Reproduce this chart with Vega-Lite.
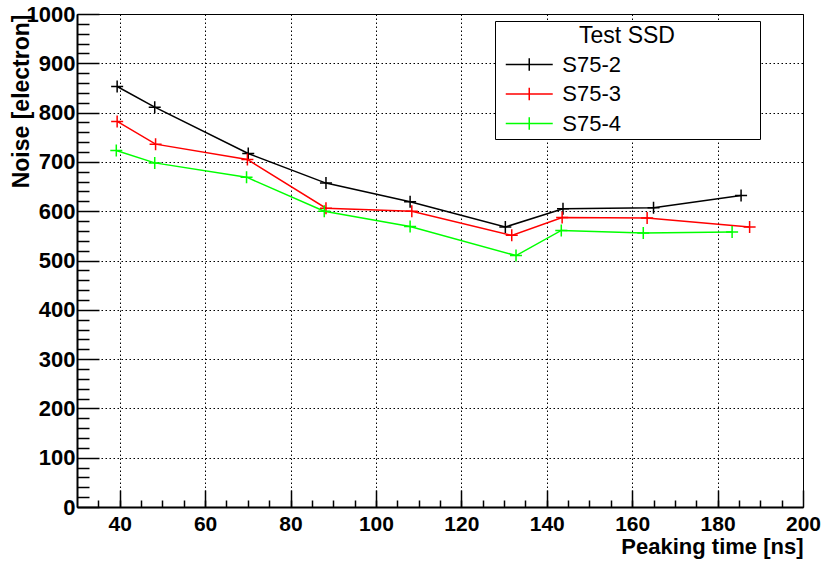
{
  "$schema": "https://vega.github.io/schema/vega-lite/v6.json",
  "width": 726,
  "height": 493,
  "autosize": {"type": "none"},
  "padding": {"left": 77, "top": 14, "right": 22, "bottom": 58},
  "background": "white",
  "config": {
    "view": {"stroke": "black", "strokeWidth": 1},
    "font": "Liberation Sans",
    "axis": {"domainColor": "black", "domainWidth": 2, "tickColor": "black", "tickWidth": 1.5, "labelColor": "black", "titleColor": "black"}
  },
  "data": {"values": [
    {"series": "S75-2", "t": 39.4, "noise": 853},
    {"series": "S75-2", "t": 48.2, "noise": 811},
    {"series": "S75-2", "t": 70.1, "noise": 717},
    {"series": "S75-2", "t": 88.3, "noise": 657},
    {"series": "S75-2", "t": 108.0, "noise": 619},
    {"series": "S75-2", "t": 130.3, "noise": 568},
    {"series": "S75-2", "t": 143.8, "noise": 605},
    {"series": "S75-2", "t": 165.0, "noise": 607},
    {"series": "S75-2", "t": 185.5, "noise": 632},
    {"series": "S75-3", "t": 39.4, "noise": 782},
    {"series": "S75-3", "t": 48.4, "noise": 736},
    {"series": "S75-3", "t": 69.9, "noise": 705},
    {"series": "S75-3", "t": 88.3, "noise": 606},
    {"series": "S75-3", "t": 108.4, "noise": 600},
    {"series": "S75-3", "t": 131.8, "noise": 551},
    {"series": "S75-3", "t": 143.6, "noise": 587},
    {"series": "S75-3", "t": 163.5, "noise": 586},
    {"series": "S75-3", "t": 187.5, "noise": 568},
    {"series": "S75-4", "t": 39.2, "noise": 723},
    {"series": "S75-4", "t": 48.2, "noise": 698},
    {"series": "S75-4", "t": 69.7, "noise": 669},
    {"series": "S75-4", "t": 87.9, "noise": 600},
    {"series": "S75-4", "t": 108.0, "noise": 569},
    {"series": "S75-4", "t": 132.8, "noise": 510},
    {"series": "S75-4", "t": 143.4, "noise": 561},
    {"series": "S75-4", "t": 162.6, "noise": 556},
    {"series": "S75-4", "t": 183.4, "noise": 558}
  ]},
  "encoding": {
    "color": {
      "field": "series", "type": "nominal",
      "scale": {"domain": ["S75-2", "S75-3", "S75-4"], "range": ["#000000", "#ff0000", "#00ff00"]},
      "legend": {
        "title": "Test SSD", "orient": "none", "legendX": 418, "legendY": 7,
        "titleFontSize": 23, "titleFontWeight": "normal", "titleFont": "Liberation Sans",
        "titleAnchor": "middle", "titleAlign": "center", "titleColor": "black", "titlePadding": 4,
        "labelFontSize": 22, "labelFont": "Liberation Sans", "labelColor": "black", "labelOffset": 20.5, "labelLimit": 400,
        "symbolType": "M-2,0H2M0,-0.54V0.54", "symbolSize": 552, "symbolStrokeWidth": 1.5,
        "symbolFillColor": "transparent", "symbolOffset": 17.75,
        "fillColor": "white", "strokeColor": "black", "padding": 4, "rowPadding": 5.5,
        "labelExpr": "pad(datum.label, 27, '\u00a0') + '\u200b'"
      }
    }
  },
  "layer": [
    {
      "mark": {"type": "line", "strokeWidth": 1.5},
      "encoding": {
        "x": {"field": "t", "type": "quantitative", "scale": {"domain": [30, 200], "nice": false, "zero": false},
          "axis": {"orient": "bottom", "values": [35,40,45,50,55,60,65,70,75,80,85,90,95,100,105,110,115,120,125,130,135,140,145,150,155,160,165,170,175,180,185,190,195],
            "tickSize": -7, "labels": false, "domain": false, "grid": false, "title": null}},
        "y": {"field": "noise", "type": "quantitative", "scale": {"domain": [0, 1000], "nice": false, "zero": true},
          "axis": {"orient": "left", "values": [20,40,60,80,120,140,160,180,220,240,260,280,320,340,360,380,420,440,460,480,520,540,560,580,620,640,660,680,720,740,760,780,820,840,860,880,920,940,960,980],
            "tickSize": -12, "labels": false, "domain": false, "grid": false, "title": null}}
      }
    },
    {
      "mark": {"type": "point", "shape": "M-1,0H1M0,-1V1", "filled": false, "size": 144, "strokeWidth": 1.5, "opacity": 1},
      "encoding": {
        "x": {"field": "t", "type": "quantitative", "scale": {"domain": [30, 200], "nice": false, "zero": false},
          "axis": {"orient": "bottom", "values": [40,60,80,100,120,140,160,180,200], "tickSize": -17,
            "grid": true, "gridColor": "black", "gridDash": [1.5, 2.5], "gridWidth": 1, "gridOpacity": 1,
            "labelFont": "Liberation Sans", "labelFontSize": 21, "labelFontWeight": "bold", "labelPadding": 23, "labelFlush": false,
            "title": "Peaking time [ns]", "titleFont": "Liberation Sans", "titleFontSize": 22, "titleFontWeight": "bold",
            "titleAnchor": "end", "titleAlign": "right", "titleBaseline": "alphabetic", "titleX": 726, "titleY": 46}},
        "y": {"field": "noise", "type": "quantitative", "scale": {"domain": [0, 1000], "nice": false, "zero": true},
          "axis": {"orient": "left", "values": [0,100,200,300,400,500,600,700,800,900,1000], "tickSize": -22, "format": "d",
            "grid": true, "gridColor": "black", "gridDash": [1.5, 2.5], "gridWidth": 1, "gridOpacity": 1,
            "labelFont": "Liberation Sans", "labelFontSize": 22, "labelFontWeight": "bold", "labelPadding": 24, "labelFlush": false,
            "title": "Noise [electron]", "titleFont": "Liberation Sans", "titleFontSize": 23, "titleFontWeight": "bold",
            "titleAngle": -90, "titleAlign": "right", "titleBaseline": "alphabetic", "titleX": -49, "titleY": 0}}
      }
    }
  ],
  "resolve": {"axis": {"x": "independent", "y": "independent"}}
}
